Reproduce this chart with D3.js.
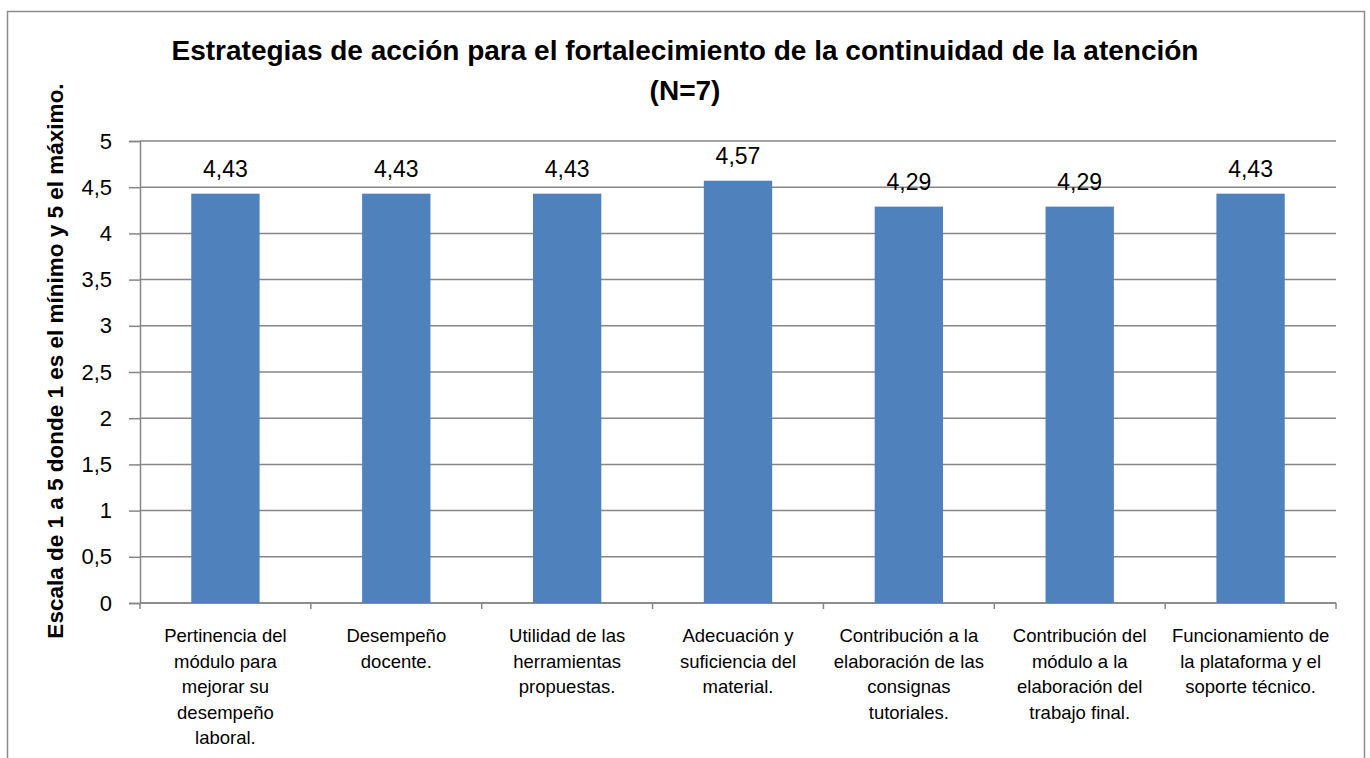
<!DOCTYPE html>
<html>
<head>
<meta charset="utf-8">
<script src="https://cdn.jsdelivr.net/npm/d3@7"></script>
<style>
  body { margin: 0; background: #fff; }
  text { font-family: "Liberation Sans", Arial, sans-serif; fill: #000; }
</style>
</head>
<body>
<div id="chart"></div>
<script>
// chart data
const categories = [
  ["Pertinencia del", "módulo para", "mejorar su", "desempeño", "laboral."],
  ["Desempeño", "docente."],
  ["Utilidad de las", "herramientas", "propuestas."],
  ["Adecuación y", "suficiencia del", "material."],
  ["Contribución a la", "elaboración de las", "consignas", "tutoriales."],
  ["Contribución del", "módulo a la", "elaboración del", "trabajo final."],
  ["Funcionamiento de", "la plataforma y el", "soporte técnico."]
];
const values = [4.43, 4.43, 4.43, 4.57, 4.29, 4.29, 4.43];
const yTicks = [0, 0.5, 1, 1.5, 2, 2.5, 3, 3.5, 4, 4.5, 5];
const titleLines = ["Estrategias de acción para el fortalecimiento de la continuidad de la atención", "(N=7)"];
const yLabel = "Escala  de 1 a 5 donde 1 es el mínimo y 5 el máximo.";

const W = 1370, H = 758;
let margin = {top: 141, right: 34, bottom: 155, left: 140},
  width = W - margin.left - margin.right,
  height = H - margin.top - margin.bottom;

const svg = d3.select("#chart")
  .append("svg")
    .attr("width", W)
    .attr("height", H);

// outer chart border
svg.append("rect")
  .attr("x", 7.5).attr("y", 11.5)
  .attr("width", 1357).attr("height", 800)
  .attr("fill", "none")
  .attr("stroke", "#8c8c8c")
  .attr("stroke-width", 1.5);

const g = svg.append("g")
  .attr("transform", "translate(" + margin.left + "," + margin.top + ")");

let x = d3.scaleBand()
  .domain(d3.range(categories.length))
  .range([0, width])
  .padding(0);

let y = d3.scaleLinear()
  .domain([0, 5])
  .range([height, 0]);

// gridlines
g.selectAll("grid")
  .data(yTicks)
  .enter()
  .append("line")
    .attr("x1", 0).attr("x2", width)
    .attr("y1", d => y(d)).attr("y2", d => y(d))
    .attr("stroke", "#868686")
    .attr("stroke-width", 1.5);

// y axis
const yAxis = g.append("g")
  .call(d3.axisLeft(y).tickValues(yTicks).tickSize(11).tickPadding(17)
    .tickFormat(d => String(d).replace(".", ",")));
yAxis.select(".domain").attr("stroke", "#868686").attr("stroke-width", 1.5);
yAxis.selectAll(".tick line").attr("stroke", "#868686").attr("stroke-width", 1.5);
yAxis.selectAll(".tick text").style("font-size", "22px").attr("fill", "#000")
  .style("font-family", "Liberation Sans, Arial, sans-serif");

// x axis line and ticks at category boundaries
g.append("line")
  .attr("x1", 0).attr("x2", width)
  .attr("y1", height).attr("y2", height)
  .attr("stroke", "#868686").attr("stroke-width", 1.5);
g.selectAll("xtick")
  .data(d3.range(categories.length + 1))
  .enter()
  .append("line")
    .attr("x1", d => d < categories.length ? x(d) : width)
    .attr("x2", d => d < categories.length ? x(d) : width)
    .attr("y1", height).attr("y2", height + 6)
    .attr("stroke", "#868686").attr("stroke-width", 1.5);

// bars
const barW = x.bandwidth() * 0.4;
g.selectAll("bars")
  .data(values)
  .enter()
  .append("rect")
    .attr("x", (d, i) => x(i) + (x.bandwidth() - barW) / 2)
    .attr("y", d => y(d))
    .attr("width", barW)
    .attr("height", d => height - y(d))
    .attr("fill", "#4f81bd");

// value labels
g.selectAll("vals")
  .data(values)
  .enter()
  .append("text")
    .attr("x", (d, i) => x(i) + x.bandwidth() / 2)
    .attr("y", d => y(d) - 17)
    .attr("text-anchor", "middle")
    .style("font-size", "23px")
    .text(d => d.toFixed(2).replace(".", ","));

// category labels
categories.forEach(function(lines, i) {
  const t = g.append("text")
    .attr("text-anchor", "middle")
    .attr("transform", "translate(" + (x(i) + x.bandwidth() / 2) + "," + (height + 39) + ")")
    .style("font-size", "18.5px");
  lines.forEach(function(l, j) {
    t.append("tspan").attr("x", 0).attr("y", j * 25.5).text(l);
  });
});

// title
svg.selectAll("title")
  .data(titleLines)
  .enter()
  .append("text")
    .attr("x", 685)
    .attr("y", (d, i) => 60 + i * 40)
    .attr("text-anchor", "middle")
    .style("font-size", "28px")
    .style("font-weight", "bold")
    .text(d => d);

// y axis label
svg.append("text")
  .attr("transform", "translate(63," + 361 + ")rotate(-90)")
  .attr("text-anchor", "middle")
  .style("font-size", "22.5px")
  .style("font-weight", "bold")
  .text(yLabel);
</script>
</body>
</html>
